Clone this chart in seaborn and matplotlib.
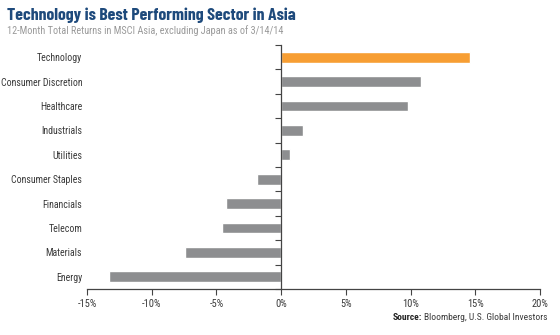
import matplotlib
matplotlib.use("Agg")
import matplotlib.pyplot as plt
from matplotlib.ticker import FixedLocator, FuncFormatter
import seaborn as sns
import pandas as pd

sectors = ["Technology", "Consumer Discretion", "Healthcare", "Industrials",
           "Utilities", "Consumer Staples", "Financials", "Telecom",
           "Materials", "Energy"]
returns = [14.6, 10.8, 9.8, 1.7, 0.7, -1.9, -4.3, -4.6, -7.4, -13.3]
x_ticks = [-15, -10, -5, 0, 5, 10, 15, 20]

ORANGE = "#F79E33"
GRAY = "#8D8E90"
TITLE_BLUE = "#1E4A7C"
TEXT = "#3A3A3A"

sns.set_theme(style="white")
NARROW = ["Barlow Condensed", "Roboto Condensed", "DejaVu Sans"]
plt.rcParams["font.family"] = ["Roboto Condensed", "DejaVu Sans"]

df = pd.DataFrame({"sector": sectors, "ret": returns})
palette = {s: (ORANGE if s == "Technology" else GRAY) for s in sectors}

fig = plt.figure(figsize=(5.6, 3.35), dpi=100)
ax = fig.add_axes([0.1554, 0.1373, 0.8089, 0.7284])

sns.barplot(data=df, x="ret", y="sector", hue="sector", palette=palette,
            legend=False, width=0.44, saturation=1, ax=ax, orient="h")

ax.set_xlim(-15, 20)
ax.set_ylim(len(sectors) - 0.5, -0.5)
ax.set_xlabel("")
ax.set_ylabel("")

# x axis
ax.set_xticks(x_ticks)
ax.xaxis.set_major_formatter(FuncFormatter(lambda v, p: f"{v:.0f}%"))
ax.tick_params(axis="x", direction="out", length=4, width=0.8,
               color="#444444", labelsize=7.5, labelcolor=TEXT, pad=3,
               bottom=True)

# y axis: spine sits at zero, ticks mark the category boundaries
for side in ("top", "right"):
    ax.spines[side].set_visible(False)
ax.spines["left"].set_position(("data", 0))
for side in ("left", "bottom"):
    ax.spines[side].set_color("#444444")
    ax.spines[side].set_linewidth(0.9)

ax.yaxis.set_minor_locator(FixedLocator([i - 0.5 for i in range(len(sectors) + 1)]))
axes_width_pt = 0.8089 * 5.6 * 72
label_pad = (0 - ax.get_xlim()[0]) / (ax.get_xlim()[1] - ax.get_xlim()[0]) * axes_width_pt + 3.5
ax.tick_params(axis="y", which="major", length=0, pad=label_pad,
               labelsize=7.1, labelcolor=TEXT)
ax.tick_params(axis="y", which="minor", direction="out", length=4, width=0.8,
               color="#444444", left=True)

fig.text(0.0125, 0.955, "Technology is Best Performing Sector in Asia",
         fontsize=12.8, fontweight="bold", color=TITLE_BLUE, va="center",
         family=NARROW)
fig.text(0.0125, 0.908, "12-Month Total Returns in MSCI Asia, excluding Japan as of 3/14/14",
         fontsize=7.4, color="#9A9A9A", va="center")

src = fig.text(0.978, 0.052, "Bloomberg, U.S. Global Investors", fontsize=6.8,
               color=TEXT, ha="right", va="center")
fig.canvas.draw()
bb = src.get_window_extent()
fig.text((bb.x0 - 2) / fig.bbox.width, 0.052, "Source:", fontsize=6.8,
         fontweight="bold", color="#222222", ha="right", va="center")

fig.savefig("out.png", dpi=100)
